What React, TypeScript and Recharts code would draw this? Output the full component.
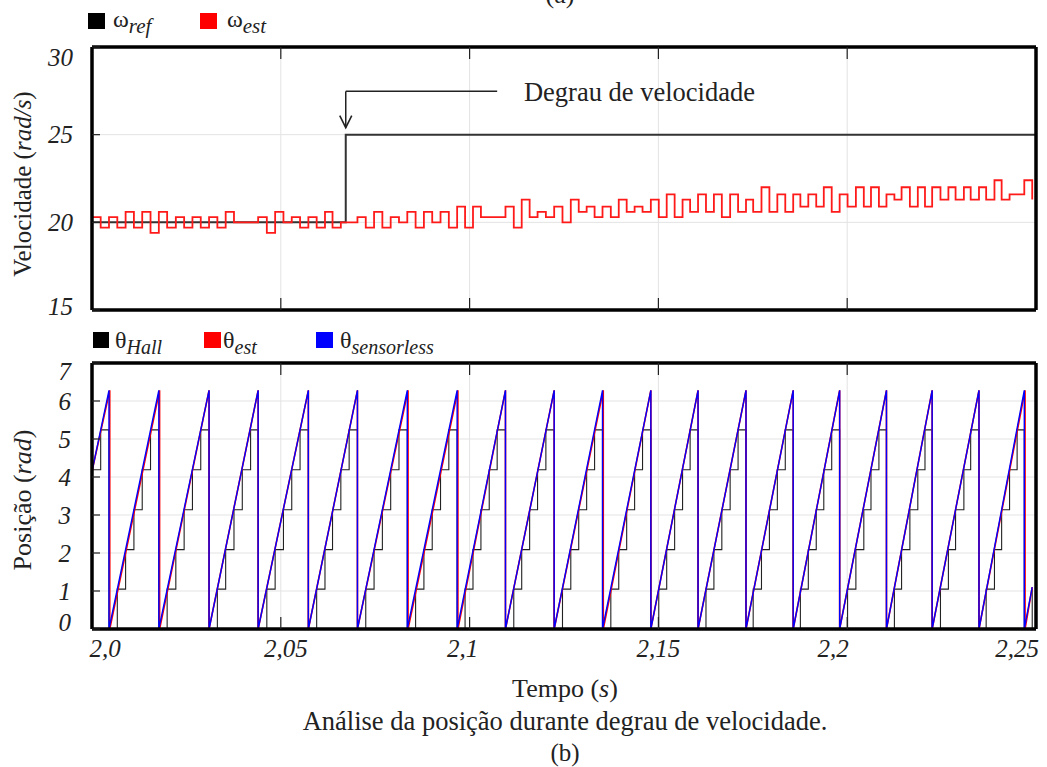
import React from "react";
import {
  LineChart,
  Line,
  XAxis,
  YAxis,
  CartesianGrid,
  ReferenceLine,
  ReferenceDot,
} from "recharts";

const FONT = '"Liberation Serif", "Times New Roman", serif';

const xTicks = [2.0, 2.05, 2.1, 2.15, 2.2, 2.25];
const xTickLabels = ["2,0", "2,05", "2,1", "2,15", "2,2", "2,25"];
const velocityTicks = [15, 20, 25, 30];
const positionTicks = [0, 1, 2, 3, 4, 5, 6, 7];

// speed reference step
const refTimes = [2.0, 2.0672, 2.25];
const refValues = [20, 25, 25];

// instants (s) where the Hall sector changes; ω_est is refreshed at the same instants
const hallEdges = [
  2.0023, 2.0045, 2.0067, 2.0089, 2.0111, 2.0133, 2.0155, 2.0177, 2.0199, 2.0222,
  2.0244, 2.0266, 2.0288, 2.031, 2.0332, 2.0354, 2.0376, 2.0398, 2.042, 2.044,
  2.0463, 2.0485, 2.0507, 2.0529, 2.0551, 2.0573, 2.0595, 2.0617, 2.0637, 2.0659,
  2.0681, 2.0703, 2.0725, 2.0747, 2.0769, 2.0791, 2.0813, 2.0835, 2.0857, 2.0879,
  2.0901, 2.0923, 2.0945, 2.0967, 2.0988, 2.1009, 2.103, 2.1052, 2.1073, 2.1095,
  2.1117, 2.1138, 2.1159, 2.118, 2.1202, 2.1224, 2.1246, 2.1268, 2.1289, 2.131,
  2.1331, 2.1352, 2.1374, 2.1395, 2.1416, 2.1437, 2.1458, 2.148, 2.1501, 2.1522,
  2.1543, 2.1564, 2.1584, 2.1605, 2.1626, 2.1647, 2.1668, 2.169, 2.1711, 2.1732,
  2.1751, 2.1773, 2.1794, 2.1815, 2.1836, 2.1857, 2.1876, 2.1897, 2.1918, 2.1938,
  2.1959, 2.198, 2.2001, 2.2023, 2.2044, 2.2063, 2.2084, 2.2104, 2.2125, 2.2144,
  2.2166, 2.2187, 2.2206, 2.2225, 2.2247, 2.2268, 2.2287, 2.2309, 2.2327, 2.2349,
  2.2368, 2.239, 2.2409, 2.243, 2.245, 2.2469, 2.249,
];

// ω_est (rad/s): value from t = 2.0, then the value taken at each Hall edge
const omegaEst = [
  20.3, 19.7, 20.3, 19.7, 20.6, 19.7, 20.6, 19.4, 20.6, 19.7, 20.3, 19.7, 20.3, 19.7, 20.3, 19.7, 20.6,
  20.0, 20.0, 20.0,
  20.3, 19.4, 20.6, 20.0, 20.3, 19.7, 20.3, 19.7,
  20.6, 19.7, 20.0, 20.0,
  20.3, 19.7, 20.6, 19.7, 20.3, 20.0, 20.6, 19.7, 20.6, 20.0, 20.6, 19.7,
  20.9, 19.7, 20.9, 20.3, 20.3, 20.3,
  20.9, 19.7, 21.3, 20.3, 20.6, 20.3, 20.9, 20.0,
  21.3, 20.6, 20.9, 20.3, 20.9, 20.3, 21.3, 20.6, 20.9, 20.6,
  21.3, 20.3, 21.6, 20.3, 21.3, 20.6, 21.6, 20.6, 21.6, 20.3, 21.6, 20.6,
  21.3, 20.6, 22.0, 20.6, 21.6, 20.6,
  21.6, 20.9, 21.6, 20.9, 22.0, 20.6, 21.6, 20.9, 22.0, 20.9, 22.0, 20.9,
  21.6, 21.3, 22.0, 20.9, 22.0, 20.9, 22.0, 21.3, 22.0, 21.3, 22.0, 21.3,
  22.0, 21.3, 22.4, 21.3, 21.6, 21.6, 22.4,
  21.3,
];

// Hall sector angles (rad) and the sector active at t = 2.0
const hallLevels = [0, 1.05, 2.09, 3.14, 4.19, 5.24];
const hallStartSector = 4;

// instants (s) where each estimated angle wraps from 2π to 0
const sensorlessWraps = [
  2.0045, 2.0177, 2.031, 2.044, 2.0573, 2.0703, 2.0835, 2.0967, 2.1095, 2.1224,
  2.1352, 2.148, 2.1605, 2.1732, 2.1857, 2.198, 2.2104, 2.2225, 2.2349, 2.2469,
];
const estWraps = [
  2.0047, 2.0179, 2.031, 2.044, 2.0573, 2.0703, 2.0837, 2.0969, 2.1095, 2.1224,
  2.1354, 2.148, 2.1605, 2.1732, 2.1857, 2.198, 2.2104, 2.2225, 2.2349, 2.2471,
];
const thetaPeak = 6.28;
const thetaAtStart = 4.15;
const thetaAtEnd = 1.1;
const thetaEndTime = 2.249;

// "Degrau de velocidade" annotation (data coordinates)
const arrowTopY = 27.47;
const arrowTipY = 25.4;
const leaderEndTime = 2.1073;
const labelTime = 2.1144;

const omegaRefData = refTimes.map((t, i) => ({ t, v: refValues[i] }));
const omegaEstData = [
  { t: 2.0, v: omegaEst[0] },
  ...hallEdges.map((t, i) => ({ t, v: omegaEst[i + 1] })),
];
const hallData = [
  { t: 2.0, v: hallLevels[hallStartSector] },
  ...hallEdges.map((t, i) => ({
    t,
    v: hallLevels[(hallStartSector + i + 1) % hallLevels.length],
  })),
];

function sawtooth(wraps: number[]) {
  const pts = [{ t: 2.0, v: thetaAtStart }];
  wraps.forEach((w) => {
    pts.push({ t: w, v: thetaPeak });
    pts.push({ t: w, v: 0 });
  });
  pts.push({ t: thetaEndTime, v: thetaAtEnd });
  return pts;
}
const thetaEstData = sawtooth(estWraps);
const thetaSensorlessData = sawtooth(sensorlessWraps);

const frame = { stroke: "#000", strokeWidth: 3.5 };
const tickStroke = { stroke: "#222", strokeWidth: 1.2 };

const NoTick = () => <g />;

const labelShift = [13, 5, -7, 0, -14, -16];

const XTickLabel = (props: any) => {
  const { x, y, payload } = props;
  const i = xTicks.indexOf(payload.value);
  return (
    <text
      x={x + (labelShift[i] ?? 0)}
      y={y}
      dy="0.35em"
      textAnchor="middle"
      fontFamily={FONT}
      fontStyle="italic"
      fontSize={25}
      fill="#222"
    >
      {xTickLabels[i]}
    </text>
  );
};

const makeYTick = (top: number, bottom: number, nudgeTop: number, nudgeBottom: number) =>
  function YTick(props: any) {
    const { x, y, payload } = props;
    let dy = 0;
    if (payload.value === top) dy = nudgeTop;
    if (payload.value === bottom) dy = nudgeBottom;
    return (
      <text
        x={x}
        y={y + dy}
        dy="0.35em"
        textAnchor="end"
        fontFamily={FONT}
        fontStyle="italic"
        fontSize={25}
        fill="#222"
      >
        {payload.value}
      </text>
    );
  };

const VelTick = makeYTick(30, 15, 10, -4);
const PosTick = makeYTick(7, 0, 8, -7);

const ArrowHead = (p: any) => (
  <path
    d={`M${p.cx - 6},${p.cy - 12} L${p.cx},${p.cy} L${p.cx + 6},${p.cy - 12}`}
    fill="none"
    stroke="#222"
    strokeWidth={1.6}
  />
);

const StepLabel = (p: any) => (
  <text
    x={p.cx}
    y={p.cy}
    dy="0.35em"
    fontFamily={FONT}
    fontSize={26.5}
    fill="#222"
  >
    Degrau de velocidade
  </text>
);

export default function App() {
  return (
    <div
      style={{
        position: "absolute",
        left: 0,
        top: 0,
        width: 1047,
        height: 767,
        background: "#fff",
        fontFamily: FONT,
      }}
    >
      <div style={{ position: "absolute", left: 0, top: 0 }}>
        <LineChart width={1047} height={330} margin={{ top: 46, right: 10, bottom: 0, left: 0 }}>
          <CartesianGrid stroke="#e3e3e3" />
          <XAxis
            type="number"
            dataKey="t"
            domain={[2.0, 2.25]}
            ticks={xTicks}
            allowDataOverflow
            height={20}
            tick={NoTick}
            tickSize={-12}
            axisLine={frame}
            tickLine={tickStroke}
          />
          <XAxis
            xAxisId="top"
            orientation="top"
            type="number"
            dataKey="t"
            domain={[2.0, 2.25]}
            ticks={xTicks}
            allowDataOverflow
            height={1}
            tick={NoTick}
            tickSize={-12}
            axisLine={frame}
            tickLine={tickStroke}
          />
          <YAxis
            type="number"
            domain={[15, 30]}
            ticks={velocityTicks}
            width={92}
            tick={VelTick}
            tickSize={-8}
            tickMargin={27}
            axisLine={frame}
            tickLine={tickStroke}
          />
          <YAxis
            yAxisId="right"
            orientation="right"
            type="number"
            domain={[15, 30]}
            ticks={velocityTicks}
            width={1}
            tick={NoTick}
            tickSize={-8}
            axisLine={frame}
            tickLine={tickStroke}
          />
          <Line
            data={omegaRefData}
            dataKey="v"
            type="stepAfter"
            stroke="#333"
            strokeWidth={2}
            dot={false}
            activeDot={false}
            isAnimationActive={false}
          />
          <Line
            data={omegaEstData}
            dataKey="v"
            type="stepAfter"
            stroke="#ff1a1a"
            strokeWidth={1.8}
            dot={false}
            activeDot={false}
            isAnimationActive={false}
          />
          <ReferenceLine
            segment={[
              { x: refTimes[1], y: arrowTopY },
              { x: leaderEndTime, y: arrowTopY },
            ]}
            stroke="#222"
            strokeWidth={1.5}
          />
          <ReferenceLine
            segment={[
              { x: refTimes[1], y: arrowTopY },
              { x: refTimes[1], y: arrowTipY },
            ]}
            stroke="#222"
            strokeWidth={1.5}
          />
          <ReferenceDot x={refTimes[1]} y={arrowTipY} r={0} shape={ArrowHead} />
          <ReferenceDot x={labelTime} y={arrowTopY} r={0} shape={StepLabel} />
        </LineChart>
      </div>

      <div style={{ position: "absolute", left: 0, top: 340 }}>
        <LineChart width={1047} height={330} margin={{ top: 22, right: 10, bottom: 0, left: 0 }}>
          <CartesianGrid stroke="#e3e3e3" />
          <XAxis
            type="number"
            dataKey="t"
            domain={[2.0, 2.25]}
            ticks={xTicks}
            allowDataOverflow
            height={41}
            tick={XTickLabel}
            tickSize={-12}
            tickMargin={31}
            axisLine={frame}
            tickLine={tickStroke}
          />
          <XAxis
            xAxisId="top"
            orientation="top"
            type="number"
            dataKey="t"
            domain={[2.0, 2.25]}
            ticks={xTicks}
            allowDataOverflow
            height={1}
            tick={NoTick}
            tickSize={-12}
            axisLine={frame}
            tickLine={tickStroke}
          />
          <YAxis
            type="number"
            domain={[0, 7]}
            ticks={positionTicks}
            width={92}
            tick={PosTick}
            tickSize={-8}
            tickMargin={29}
            axisLine={frame}
            tickLine={tickStroke}
          />
          <YAxis
            yAxisId="right"
            orientation="right"
            type="number"
            domain={[0, 7]}
            ticks={positionTicks}
            width={1}
            tick={NoTick}
            tickSize={-8}
            axisLine={frame}
            tickLine={tickStroke}
          />
          <Line
            data={hallData}
            dataKey="v"
            type="stepAfter"
            stroke="#222"
            strokeWidth={1.1}
            dot={false}
            activeDot={false}
            isAnimationActive={false}
          />
          <Line
            data={thetaEstData}
            dataKey="v"
            type="linear"
            stroke="#ff0000"
            strokeWidth={1.6}
            dot={false}
            activeDot={false}
            isAnimationActive={false}
          />
          <Line
            data={thetaSensorlessData}
            dataKey="v"
            type="linear"
            stroke="#0000ff"
            strokeWidth={1.4}
            dot={false}
            activeDot={false}
            isAnimationActive={false}
          />
        </LineChart>
      </div>

      <svg
        width={1047}
        height={767}
        style={{ position: "absolute", left: 0, top: 0, pointerEvents: "none" }}
        fontFamily={FONT}
        fill="#222"
      >
        <text x={560} y={3} textAnchor="middle" fontSize={26}>(a)</text>

        <rect x={88} y={13} width={17} height={16} fill="#000" />
        <text x={113} y={27} fontSize={24}>
          ω<tspan dy={6} fontSize={21} fontStyle="italic">ref</tspan>
        </text>
        <rect x={200} y={13} width={17} height={16} fill="#ff0000" />
        <text x={227} y={27} fontSize={24}>
          ω<tspan dy={6} fontSize={21} fontStyle="italic">est</tspan>
        </text>

        <text transform="translate(31,184) rotate(-90)" textAnchor="middle" fontSize={25}>
          Velocidade (<tspan fontStyle="italic">rad/s</tspan>)
        </text>

        <rect x={93} y={332} width={16} height={16} fill="#000" />
        <text x={115} y={348} fontSize={24}>
          θ<tspan dy={6} fontSize={20} fontStyle="italic">Hall</tspan>
        </text>
        <rect x={204} y={332} width={17} height={16} fill="#ff0000" />
        <text x={223} y={348} fontSize={24}>
          θ<tspan dy={6} fontSize={20} fontStyle="italic">est</tspan>
        </text>
        <rect x={316} y={332} width={17} height={16} fill="#0000ff" />
        <text x={340} y={348} fontSize={24}>
          θ<tspan dy={6} fontSize={20} fontStyle="italic">sensorless</tspan>
        </text>

        <text transform="translate(31,500) rotate(-90)" textAnchor="middle" fontSize={26}>
          Posição (<tspan fontStyle="italic">rad</tspan>)
        </text>

        <text x={565} y={697} textAnchor="middle" fontSize={26}>
          Tempo (<tspan fontStyle="italic">s</tspan>)
        </text>
        <text x={565} y={730} textAnchor="middle" fontSize={26.5}>
          Análise da posição durante degrau de velocidade.
        </text>
        <text x={565} y={761} textAnchor="middle" fontSize={25}>(b)</text>
      </svg>
    </div>
  );
}
